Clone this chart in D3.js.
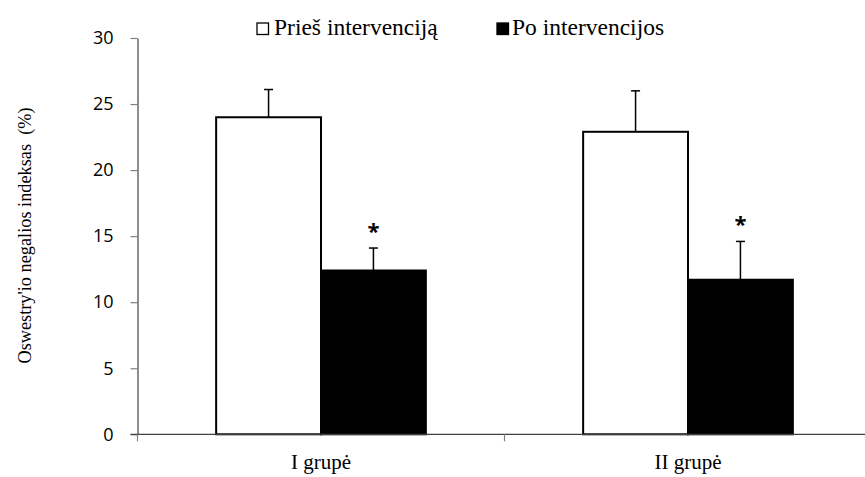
<!DOCTYPE html>
<html><head><meta charset="utf-8">
<script src="https://cdn.jsdelivr.net/npm/d3@7/dist/d3.min.js"></script>
<style>body{margin:0;background:#fff}svg{display:block}
.serif{font-family:"Liberation Serif","DejaVu Serif",serif}
.sans{font-family:"Open Sans","Liberation Sans",sans-serif}
</style>
</head><body><div id="chart"></div>
<script>
const categories = ["I grupė", "II grupė"];
const seriesNames = ["Prieš intervenciją", "Po intervencijos"];
const beforeValues = [24.0, 22.9];
const beforeErrors = [2.1, 3.1];
const afterValues = [12.4, 11.7];
const afterErrors = [1.7, 2.9];
const significant = [true, true];
const yTicks = [0, 5, 10, 15, 20, 25, 30];
const yLabel = "Oswestry'io negalios indeksas  (%)";

const W = 865, H = 477;
const svg = d3.select("#chart").append("svg").attr("width", W).attr("height", H);

const y = d3.scaleLinear().domain([0, 30]).range([434.3, 38]);
const x0 = d3.scaleBand().domain(categories).range([137.5, 871.5]);
const x1 = d3.scaleBand().domain(seriesNames).range([0, x0.bandwidth()]).paddingOuter(0.75).paddingInner(0);

const rows = categories.map((c, i) => ({
  cat: c,
  bars: [
    {s: seriesNames[0], v: beforeValues[i], e: beforeErrors[i], fill: "#fff"},
    {s: seriesNames[1], v: afterValues[i], e: afterErrors[i], fill: "#000", sig: significant[i]}
  ]
}));

const g = svg.append("g");
rows.forEach(r => {
  r.bars.forEach(b => {
    const bx = x0(r.cat) + x1(b.s);
    g.append("rect").attr("x", bx).attr("y", y(b.v)).attr("width", x1.bandwidth()).attr("height", y(0) - y(b.v))
      .attr("fill", b.fill).attr("stroke", "#000").attr("stroke-width", 2);
    const cx = bx + x1.bandwidth() / 2;
    g.append("line").attr("x1", cx).attr("x2", cx).attr("y1", y(b.v)).attr("y2", y(b.v + b.e)).attr("stroke", "#000").attr("stroke-width", 1.5);
    g.append("line").attr("x1", cx - 4.5).attr("x2", cx + 4.5).attr("y1", y(b.v + b.e)).attr("y2", y(b.v + b.e)).attr("stroke", "#000").attr("stroke-width", 1.5);
    if (b.sig) {
      g.append("text").attr("class", "sans").attr("x", cx).attr("y", y(b.v + b.e) - 9).attr("text-anchor", "middle")
        .attr("font-size", 22).attr("font-weight", "bold").text("*");
    }
  });
});

const yAxis = svg.append("g").attr("transform", "translate(137.5,0)")
  .call(d3.axisLeft(y).tickValues(yTicks).tickSize(7).tickPadding(17).tickSizeOuter(0));
yAxis.attr("font-family", null);
yAxis.select(".domain").attr("stroke", "#404040").attr("stroke-width", 1.2);
yAxis.selectAll(".tick line").attr("stroke", "#808080").attr("stroke-width", 1.2);
yAxis.selectAll("text").attr("class", "sans").attr("font-size", 18).attr("fill", "#000");

const xAxisG = svg.append("g").attr("transform", `translate(0,${y(0)})`);
xAxisG.append("line").attr("x1", 130.5).attr("x2", W).attr("y1", 0).attr("y2", 0).attr("stroke", "#404040").attr("stroke-width", 1.2);
const boundaries = [x0.range()[0]].concat(categories.map(c => x0(c) + x0.bandwidth()));
boundaries.forEach(bx => {
  xAxisG.append("line").attr("x1", bx).attr("x2", bx).attr("y1", 0).attr("y2", 7).attr("stroke", "#808080").attr("stroke-width", 1.2);
});
categories.forEach(c => {
  xAxisG.append("text").attr("class", "serif").attr("x", x0(c) + x0.bandwidth() / 2).attr("y", 34.5).attr("text-anchor", "middle")
    .attr("font-size", 21).text(c);
});

svg.append("text").attr("class", "serif").attr("transform", "translate(31,235.5) rotate(-90)").attr("text-anchor", "middle")
  .attr("font-size", 18.3).style("white-space", "pre").text(yLabel);

const legend = [{name: seriesNames[0], fill: "#fff", x: 257, tx: 274}, {name: seriesNames[1], fill: "#000", x: 497, tx: 512}];
legend.forEach(l => {
  svg.append("rect").attr("x", l.x).attr("y", 23).attr("width", 11.5).attr("height", 11.5)
    .attr("fill", l.fill).attr("stroke", "#000").attr("stroke-width", 1.3);
  svg.append("text").attr("class", "serif").attr("x", l.tx).attr("y", 35)
    .attr("font-size", 23.5).text(l.name);
});
</script></body></html>
